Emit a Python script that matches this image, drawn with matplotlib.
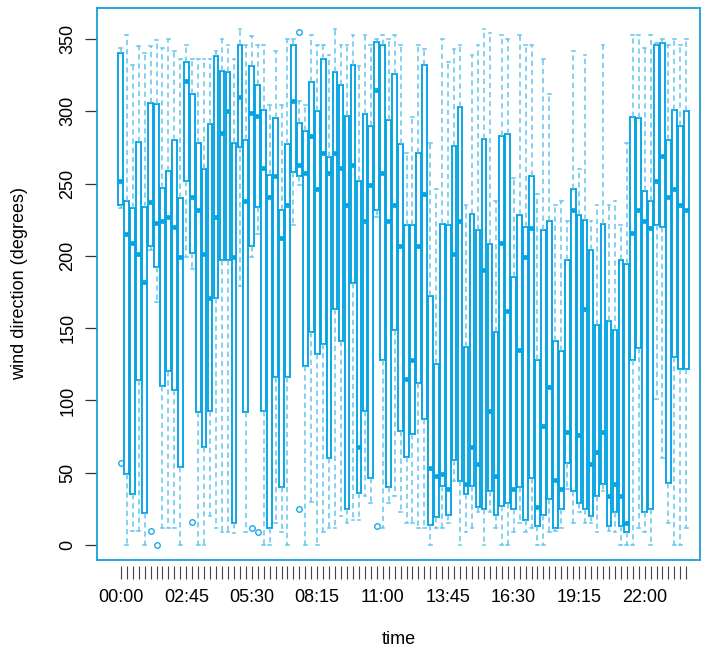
import matplotlib.pyplot as plt

plt.rcParams['font.family'] = ['Liberation Sans', 'DejaVu Sans']

# 15-minute time slots
times = [f"{h:02d}:{m:02d}" for h in range(24) for m in (0, 15, 30, 45)]

# box statistics (degrees)
whislo = [233, 0, 10, 10, 0, 204, 168, 12, 12, 12, 0, 199, 191, 0, 0, 20,
          12, 9, 9, 8, 179, 9, 199, 215, 0, 0, 15, 9, 0, 221, 249, 0,
          30, 0, 9, 12, 12, 20, 15, 17, 17, 34, 29, 227, 12, 29, 34, 23,
          15, 15, 12, 12, 0, 12, 12, 15, 44, 0, 9, 12, 23, 0, 23, 12,
          0, 0, 9, 15, 9, 12, 0, 0, 9, 10, 12, 39, 15, 23, 15, 15,
          9, 37, 10, 9, 0, 0, 0, 12, 9, 0, 101, 60, 15, 0, 0, 12]
q1 = [235, 49, 35, 114, 22, 207, 192, 110, 120, 107, 54, 252, 202, 92, 68, 93,
      171, 197, 197, 15, 275, 92, 207, 234, 93, 12, 116, 40, 116, 258, 255, 124,
      147, 132, 139, 60, 163, 141, 25, 181, 36, 93, 46, 232, 128, 40, 149, 79,
      61, 77, 112, 87, 14, 19, 41, 21, 59, 44, 35, 41, 26, 25, 37, 21,
      27, 29, 25, 40, 17, 46, 13, 21, 32, 12, 25, 57, 37, 29, 25, 20,
      34, 42, 13, 23, 13, 9, 128, 136, 23, 25, 221, 220, 43, 130, 122, 122]
med = [252, 215, 209, 201, 182, 237, 223, 224, 227, 220, 199, 321, 241, 232, 201, 171,
       227, 285, 300, 199, 310, 238, 299, 297, 261, 241, 255, 212, 235, 307, 263, 257,
       283, 246, 271, 257, 271, 261, 235, 263, 68, 224, 249, 315, 257, 224, 235, 207,
       115, 128, 207, 243, 53, 48, 49, 39, 201, 224, 42, 68, 56, 190, 93, 48,
       209, 162, 39, 135, 199, 219, 26, 82, 109, 45, 39, 78, 232, 76, 163, 56,
       64, 78, 34, 42, 34, 15, 216, 232, 224, 219, 252, 269, 241, 246, 235, 232]
q3 = [340, 238, 233, 279, 234, 306, 305, 247, 259, 280, 240, 334, 312, 278, 260, 291,
      338, 328, 327, 278, 346, 280, 331, 318, 301, 256, 295, 232, 277, 346, 292, 286,
      320, 300, 336, 268, 327, 318, 297, 332, 252, 298, 290, 348, 346, 294, 326, 277,
      221, 221, 271, 332, 172, 125, 222, 221, 276, 303, 137, 229, 218, 281, 208, 147,
      283, 284, 185, 228, 220, 255, 128, 218, 224, 141, 134, 197, 246, 228, 225, 204,
      152, 222, 155, 149, 197, 194, 296, 295, 245, 238, 346, 347, 280, 301, 290, 300]
whishi = [344, 353, 332, 345, 340, 345, 349, 344, 350, 342, 336, 346, 336, 336, 336, 336,
          342, 350, 346, 336, 357, 346, 352, 346, 346, 304, 342, 304, 350, 350, 307, 304,
          353, 346, 346, 339, 357, 346, 346, 353, 331, 353, 346, 350, 353, 350, 353, 346,
          271, 296, 346, 343, 278, 246, 350, 334, 343, 346, 235, 339, 346, 357, 354, 238,
          353, 350, 254, 353, 346, 346, 243, 336, 312, 235, 238, 224, 342, 260, 339, 224,
          235, 346, 235, 238, 221, 278, 353, 353, 344, 353, 347, 350, 346, 350, 346, 350]
outliers = {0: [57], 5: [10], 6: [0], 12: [16], 22: [12], 23: [9],
            30: [25, 355], 43: [13]}

box_col = '#03A4E4'
whisk_col = '#62C5EE'
frame_col = '#1A9FD8'

stats = []
for i in range(len(times)):
    stats.append(dict(whislo=whislo[i], q1=q1[i], med=med[i], q3=q3[i],
                      whishi=whishi[i], fliers=outliers.get(i, [])))

fig = plt.figure(figsize=(7.09, 6.52), dpi=100)
ax = fig.add_axes([97 / 709, 1 - 560 / 652, 603 / 709, 552 / 652])

# lattice-style: x ticks sit a little below the panel border
# (set before the ticks, since moving a spine resets them)
ax.spines['bottom'].set_position(('outward', 4))
ax.spines['bottom'].set_color('none')
ax.plot([0, 1], [0, 0], transform=ax.transAxes, color=frame_col, lw=1.3,
        clip_on=False, solid_capstyle='projecting')
for side in ('top', 'left', 'right'):
    ax.spines[side].set_color(frame_col)
    ax.spines[side].set_linewidth(1.3)

ax.bxp(stats, positions=range(len(times)), widths=0.78, capwidths=0.45,
       patch_artist=True, manage_ticks=False,
       boxprops=dict(facecolor='white', edgecolor=box_col, linewidth=1.35),
       medianprops=dict(color=box_col, linewidth=3.4, solid_capstyle='butt'),
       whiskerprops=dict(color=whisk_col, linewidth=1.1, linestyle=(0, (3.5, 2.5))),
       capprops=dict(color=whisk_col, linewidth=1.1),
       flierprops=dict(marker='o', markersize=4, markerfacecolor='none',
                       markeredgecolor=box_col, markeredgewidth=0.9))

ax.set_xlim(-4.0, 97.3)
ax.set_ylim(-10.4, 371.4)

ax.set_xticks(range(len(times)))
ax.set_xticklabels([t if i % 11 == 0 else '' for i, t in enumerate(times)], fontsize=13)
ax.set_yticks([0, 50, 100, 150, 200, 250, 300, 350])
ax.set_yticklabels(['0', '50', '100', '150', '200', '250', '300', '350'],
                   rotation=90, va='center', fontsize=13)
ax.tick_params(axis='x', length=9, width=0.8, color='#444444', pad=8)
ax.tick_params(axis='y', length=9, width=0.9, color='#333333', pad=6)

ax.set_ylabel('wind direction (degrees)', fontsize=13)
ax.yaxis.set_label_coords(-0.114, 0.5)
ax.set_xlabel('time', fontsize=13)
ax.xaxis.set_label_coords(0.5, -0.128)

fig.savefig('out.png', dpi=100)
